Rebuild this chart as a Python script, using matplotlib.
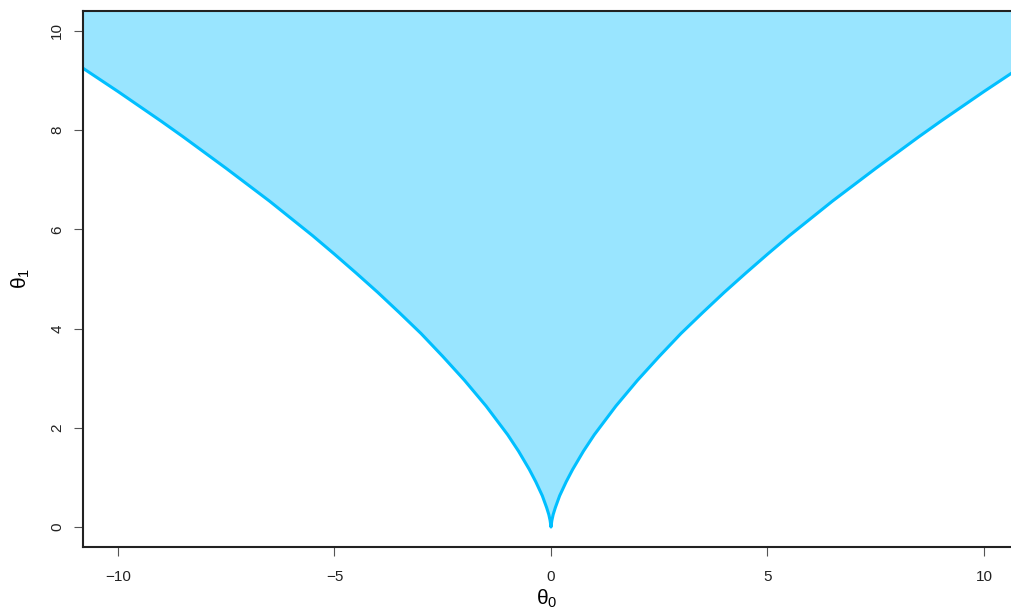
import matplotlib
matplotlib.use("Agg")
import matplotlib.pyplot as plt
import numpy as np

plt.rcParams["font.family"] = ["Liberation Sans", "DejaVu Sans"]
plt.rcParams["mathtext.fontset"] = "custom"
plt.rcParams["mathtext.rm"] = "Liberation Sans"
plt.rcParams["mathtext.it"] = "Liberation Sans"

# boundary curve (theta0, theta1)
theta0 = [-10.81, -10.0, -9.5, -9.0, -8.5, -8.0, -7.5, -7.0, -6.5, -6.0,
          -5.5, -5.0, -4.5, -4.0, -3.5, -3.0, -2.5, -2.0, -1.5, -1.0,
          -0.75, -0.5, -0.35, -0.2, -0.1, -0.05, -0.02, 0.0,
          0.02, 0.05, 0.1, 0.2, 0.35, 0.5, 0.75, 1.0, 1.5, 2.0,
          2.5, 3.0, 3.5, 4.0, 4.5, 5.0, 5.5, 6.0, 6.5, 7.0,
          7.5, 8.0, 8.5, 9.0, 9.5, 10.0, 10.62]
theta1 = [9.25, 8.78, 8.48, 8.18, 7.87, 7.55, 7.23, 6.90, 6.57, 6.22,
          5.87, 5.50, 5.12, 4.73, 4.32, 3.90, 3.44, 2.96, 2.44, 1.86,
          1.53, 1.16, 0.91, 0.63, 0.39, 0.25, 0.13, 0.0,
          0.13, 0.25, 0.39, 0.63, 0.91, 1.16, 1.53, 1.86, 2.44, 2.96,
          3.44, 3.90, 4.32, 4.73, 5.12, 5.50, 5.87, 6.22, 6.57, 6.90,
          7.23, 7.55, 7.87, 8.18, 8.48, 8.78, 9.14]

xticks = [-10, -5, 0, 5, 10]
yticks = [0, 2, 4, 6, 8, 10]

line_col = "#00BFFF"
fill_col = "#99E5FF"

fig = plt.figure(figsize=(10.11, 6.16), dpi=100)
ax = fig.add_axes([83 / 1011, 69 / 616, 1 - 83 / 1011, 536 / 616])

ax.fill_between(theta0, theta1, 12, color=fill_col, linewidth=0)
ax.plot(theta0, theta1, color=line_col, linewidth=2.2, solid_joinstyle="round")

ax.set_xlim(-10.808, 10.624)
ax.set_ylim(-0.403, 10.403)

ax.set_xticks(xticks)
ax.set_xticklabels(["\u221210", "\u22125", "0", "5", "10"])
ax.set_yticks(yticks)
ax.set_yticklabels([str(v) for v in yticks], rotation=90, va="center")

ax.tick_params(axis="both", direction="out", length=6.5, width=0.8,
               color="#555555", labelsize=11, labelcolor="#222222")
ax.tick_params(axis="x", pad=10)
ax.tick_params(axis="y", pad=7)

for s in ["left", "bottom", "top"]:
    ax.spines[s].set_linewidth(1.5)
    ax.spines[s].set_color("#222222")
ax.spines["right"].set_visible(False)

ax.set_xlabel(r"$\theta_0$", fontsize=15, labelpad=3)
ax.set_ylabel(r"$\theta_1$", fontsize=15, labelpad=13)

fig.savefig("out.png", dpi=100)
